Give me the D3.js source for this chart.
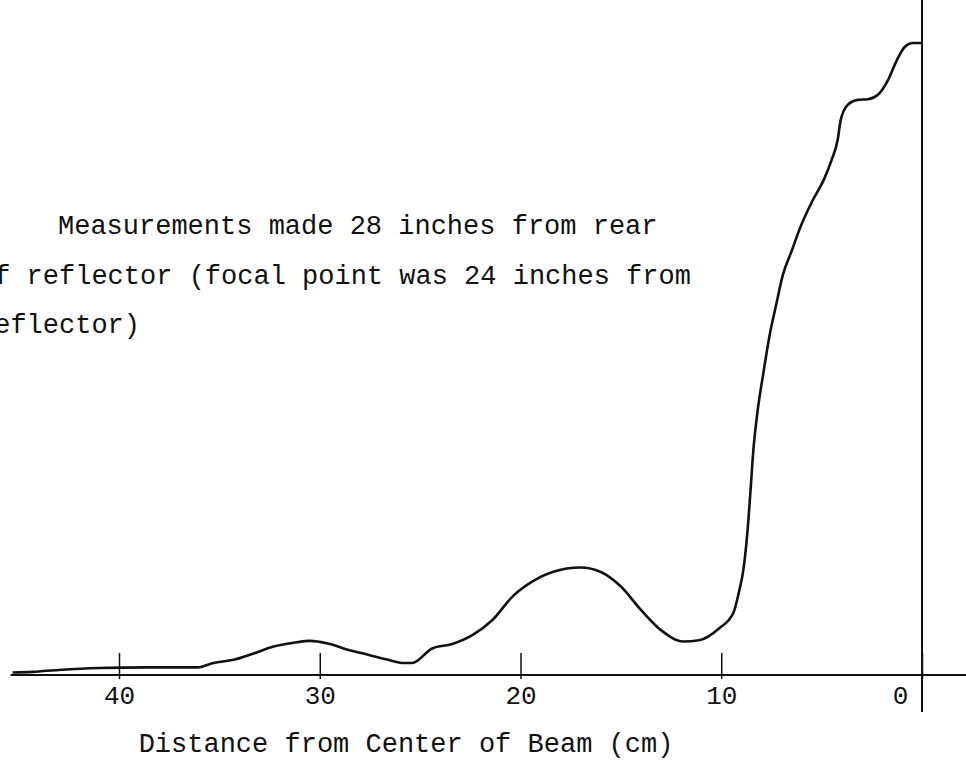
<!DOCTYPE html>
<html>
<head>
<meta charset="utf-8">
<script src="https://cdn.jsdelivr.net/npm/d3@7"></script>
<style>
  html, body { margin: 0; padding: 0; background: #fff; }
  svg { display: block; }
  text { font-family: "Liberation Mono", "DejaVu Sans Mono", monospace; fill: #111; }
</style>
</head>
<body>
<svg id="canvas" width="966" height="770"></svg>
<script>
// Beam profile - relative response vs distance from beam centre
const distanceCm = [45.3, 44.3, 43.0, 41.0, 38.6, 36.1, 35.3, 34.3, 33.3, 32.3,
  31.3, 30.5, 29.6, 28.6, 27.6, 26.7, 25.8, 25.4, 24.4, 23.4,
  22.4, 21.4, 20.4, 19.4, 18.4, 17.0, 16.0, 15.0, 14.0, 13.0,
  11.9, 11.1, 10.1, 9.4, 9.1, 8.9, 8.7, 8.55, 8.4, 8.2,
  7.9, 7.57, 7.27, 6.93, 6.48, 6.08, 5.43, 4.9, 4.5, 4.2,
  4.05, 3.7, 3.2, 2.7, 2.2, 1.7, 1.25, 0.85, 0.45, 0];
const response = [0.4, 0.5, 0.8, 1.1, 1.2, 1.2, 1.9, 2.4, 3.4, 4.5,
  5.1, 5.4, 5.0, 4.0, 3.2, 2.5, 1.9, 1.9, 4.2, 4.9,
  6.3, 8.7, 12.4, 14.8, 16.3, 17.0, 16.3, 14.0, 10.3, 7.1,
  5.3, 5.5, 7.4, 9.8, 13.4, 16.6, 22.5, 28.8, 35.6, 41.5,
  47.8, 54.1, 58.5, 63.3, 67.2, 70.7, 75.2, 78.3, 81.5, 84.7,
  87.8, 90.2, 91.0, 91.1, 91.8, 94.1, 97.3, 99.4, 100, 100];
const tickValues = [40, 30, 20, 10, 0];
const tickLabels = ['40', '30', '20', '10', '0'];
const noteLines = [
  'Measurements made 28 inches from rear',
  'of reflector (focal point was 24 inches from',
  'reflector)'
];
const xTitle = 'Distance from Center of Beam (cm)';

const svg = d3.select('#canvas');
const width = 966;
const height = 770;
const baseY = 675;

// x runs right to left: 0 cm at the vertical axis
const x = d3.scaleLinear().domain([0, 40]).range([922, 119]);
const y = d3.scaleLinear().domain([0, 100]).range([baseY, 43]);

const data = distanceCm.map((d, i) => ({ cm: d, v: response[i] }));

// Baseline
svg.append('line')
  .attr('x1', x(d3.max(distanceCm)) - 2)
  .attr('x2', width)
  .attr('y1', baseY)
  .attr('y2', baseY)
  .attr('stroke', '#111')
  .attr('stroke-width', 2);

// Vertical axis at the beam centre
svg.append('line')
  .attr('x1', x(0))
  .attr('x2', x(0))
  .attr('y1', 0)
  .attr('y2', baseY + 37)
  .attr('stroke', '#111')
  .attr('stroke-width', 2);

// Bottom axis with upward ticks
const axis = d3.axisBottom(x)
  .tickValues(tickValues)
  .tickFormat((d, i) => tickLabels[i])
  .tickSizeInner(-22)
  .tickSizeOuter(0);

const axisG = svg.append('g')
  .attr('transform', `translate(0,${baseY})`)
  .call(axis);

axisG.select('.domain').remove();
axisG.selectAll('.tick line')
  .attr('y1', 4)
  .attr('stroke', '#111')
  .attr('stroke-width', 1.5);
axisG.selectAll('.tick text')
  .attr('y', 29)
  .attr('dy', 0)
  .attr('dx', d => (d === 0 ? -22 : 0))
  .style('font-family', '"Liberation Mono", "DejaVu Sans Mono", monospace')
  .style('font-size', '26px')
  .attr('fill', '#111');

// Axis title
svg.append('text')
  .attr('x', 406)
  .attr('y', 752)
  .attr('text-anchor', 'middle')
  .attr('font-size', '27px')
  .text(xTitle);

// Annotation (typed note, runs off the left edge as in the original)
const noteX = [58, -22, -22];
const noteY = [234, 284, 333];
svg.append('g')
  .selectAll('text')
  .data(noteLines)
  .join('text')
  .attr('x', (d, i) => noteX[i])
  .attr('y', (d, i) => noteY[i])
  .attr('font-size', '27px')
  .text(d => d);

// Profile curve
const line = d3.line()
  .x(d => x(d.cm))
  .y(d => y(d.v))
  .curve(d3.curveMonotoneX);

svg.append('path')
  .datum(data)
  .attr('d', line)
  .attr('fill', 'none')
  .attr('stroke', '#111')
  .attr('stroke-width', 2.6)
  .attr('stroke-linejoin', 'round');
</script>
</body>
</html>
